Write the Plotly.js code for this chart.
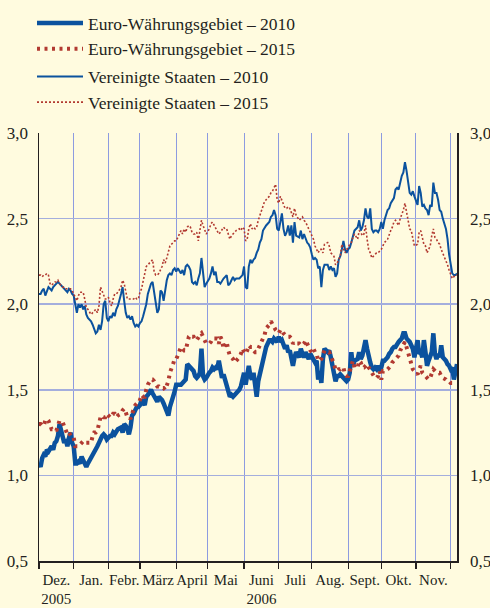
<!DOCTYPE html>
<html>
<head>
<meta charset="utf-8">
<script src="https://cdn.plot.ly/plotly-3.0.1.min.js"></script>
<style>html,body{margin:0;padding:0;background:#fffbdf;}#chart{width:490px;height:608px;}</style>
</head>
<body>
<div id="chart"></div>
<script>
// Trading-day index (0 = 1 Dec 2005) of each observation
const day = [
0,1,2,3,4,5,6,7,8,9,10,11,12,13,
15,16,17,18,19,20,21,22,23,24,25,26,27,28,29,30,31,
33,34,35,36,37,38,39,40,41,42,43,44,45,46,47,48,49,50,
52,53,54,55,56,57,58,59,60,61,62,63,64,65,66,67,68,69,
71,72,73,74,75,76,77,78,79,80,81,82,83,84,85,86,87,88,
90,91,92,93,94,95,96,97,98,99,100,101,102,103,104,105,106,
108,109,110,111,112,113,114,115,116,117,118,119,120,121,122,123,124,125,
127,128,129,130,131,132,133,134,135,136,137,138,139,140,141,142,143,144,
146,147,148,149,150,151,152,153,154,155,156,157,158,159,160,161,162,163,
165,166,167,168,169,170,171,172,173,174,175,176,177,178,179,180,181,
183,184,185,186,187,188,189,190,191,192,193,194,195,196,197,198,199,200,
202,203,204,205,206,207,208,209,210,211,212,213,214,215,216,217,218,219,
221,222,223,224,225,226,227,228,229,230,231,232,233,234,235,236,237,238,
240,241,242,243,244,245,246,247,248,249,250,251,252,253,254,255,256,
258,259,260,261,262,263,264,265
];

// Month boundaries in trading days and labels
const monthBounds = [0,22,44,64,87,107,130,152,173,196,217,239,261];
const monthNames = ['Dez.','Jan.','Febr.','März','April','Mai','Juni','Juli','Aug.','Sept.','Okt.','Nov.'];
const yearLabels = ['2005','','','','','','2006','','','','',''];
const yTicks = [0.5,1.0,1.5,2.0,2.5,3.0];

const seriesNames = ['Euro-Währungsgebiet – 2010','Euro-Währungsgebiet – 2015','Vereinigte Staaten – 2010','Vereinigte Staaten – 2015'];

const ea2010 = [
1.07,1.05,1.10,1.12,1.11,1.15,1.14,1.16,1.17,1.15,
1.19,1.20,1.23,1.30,1.23,1.19,1.21,1.17,1.22,1.25,
1.19,1.17,1.07,1.07,1.08,1.07,1.11,1.09,1.07,1.05,
1.07,1.10,1.12,1.13,1.15,1.17,1.19,1.22,1.23,1.24,
1.23,1.21,1.22,1.23,1.23,1.25,1.24,1.26,1.27,1.28,
1.25,1.30,1.29,1.27,1.24,1.28,1.35,1.36,1.39,1.40,
1.40,1.41,1.44,1.43,1.41,1.46,1.47,1.50,1.48,1.46,
1.44,1.43,1.46,1.45,1.44,1.42,1.40,1.38,1.35,1.40,
1.44,1.46,1.49,
1.53,1.53,1.53,1.54,1.55,1.56,1.65,1.64,1.63,1.62,
1.61,1.58,1.57,1.58,1.60,1.74,1.58,1.56,1.57,1.60,
1.61,1.63,1.62,1.63,1.62,1.67,1.62,1.57,1.59,1.56,
1.51,1.49,1.46,1.47,1.46,1.47,1.48,1.50,1.52,1.56,
1.60,1.53,1.59,1.64,1.58,1.56,1.60,1.52,1.46,1.55,
1.59,1.64,1.67,1.71,1.75,1.79,1.79,1.78,1.80,1.79,
1.78,1.81,1.78,1.79,1.76,1.74,1.76,1.72,1.73,1.68,
1.64,1.69,1.72,1.69,1.74,1.71,1.69,1.72,1.69,1.68,
1.71,1.69,1.67,1.66,
1.67,1.56,1.61,1.54,1.68,1.74,1.72,1.73,1.69,1.64,
1.60,1.55,1.58,1.58,1.59,1.58,1.57,1.56,1.55,1.56,
1.60,1.72,1.64,1.67,1.68,1.72,1.68,1.70,1.74,1.79,
1.74,1.69,1.66,1.63,1.62,1.63,1.62,1.64,1.62,1.63,
1.67,1.67,1.69,1.71,1.72,1.74,1.75,1.75,1.77,1.78,
1.79,1.80,1.83,1.83,1.80,1.79,1.78,1.76,1.74,1.69,
1.79,1.71,1.72,1.69,1.79,1.72,1.64,1.67,1.70,1.72,
1.83,1.71,1.68,1.71,1.69,1.76,1.69,1.67,1.65,1.64,
1.62,1.63,1.56,1.62,1.65
];

const ea2015 = [
1.30,1.30,1.29,1.29,1.32,1.33,1.32,1.29,1.27,1.27,
1.27,1.26,1.30,1.32,1.31,1.28,1.26,1.24,1.25,1.23,
1.22,1.22,1.17,1.17,1.17,1.18,1.19,1.20,1.19,1.19,
1.19,1.19,1.23,1.25,1.25,1.26,1.30,1.34,1.35,1.34,
1.34,1.36,1.35,1.34,1.34,1.36,1.36,1.34,1.35,1.36,
1.38,1.39,1.37,1.34,1.34,1.33,1.36,1.39,1.41,1.42,
1.42,1.44,1.47,1.46,1.46,1.50,1.53,1.56,1.56,1.55,
1.53,1.52,1.52,1.51,1.51,1.51,1.50,1.52,1.55,1.60,
1.62,1.65,1.68,
1.68,1.70,1.75,1.74,1.73,1.73,1.78,1.81,1.82,1.81,
1.81,1.79,1.79,1.81,1.82,1.83,1.81,1.78,1.77,1.77,
1.78,1.80,1.80,1.80,1.80,1.77,1.81,1.79,1.74,1.76,
1.78,1.73,1.70,1.69,1.68,1.66,1.67,1.69,1.71,1.74,
1.72,1.71,1.73,1.76,1.75,1.75,1.73,1.72,1.72,1.74,
1.76,1.78,1.80,1.82,1.86,1.88,1.90,1.88,1.87,1.85,
1.84,1.83,1.85,1.85,1.83,1.82,1.81,1.81,1.81,1.80,
1.77,1.78,1.77,1.77,1.76,1.76,1.77,1.79,1.77,1.74,
1.73,1.72,1.74,1.72,
1.71,1.67,1.67,1.68,1.70,1.73,1.72,1.72,1.70,1.68,
1.65,1.62,1.61,1.62,1.62,1.63,1.63,1.59,1.58,1.58,
1.61,1.64,1.67,1.63,1.63,1.67,1.66,1.63,1.63,1.64,
1.65,1.63,1.62,1.60,1.58,1.57,1.57,1.58,1.61,1.56,
1.61,1.61,1.62,1.63,1.64,1.66,1.67,1.68,1.69,1.70,
1.73,1.75,1.77,1.78,1.75,1.72,1.68,1.65,1.62,1.61,
1.59,1.62,1.64,1.60,1.59,1.58,1.57,1.56,1.57,1.60,
1.62,1.61,1.60,1.60,1.60,1.58,1.57,1.56,1.55,1.55,
1.54,1.54
];

const us2010 = [
2.06,2.06,2.08,2.09,2.05,2.08,2.10,2.09,2.08,2.10,
2.11,2.12,2.13,2.12,2.10,2.09,2.08,2.07,2.09,2.08,
2.06,2.05,2.00,1.95,2.00,1.98,2.00,1.97,1.99,1.94,
1.92,1.90,1.88,1.85,1.83,1.84,1.88,1.85,1.90,2.00,
2.02,1.92,1.90,1.93,1.92,1.95,1.93,1.97,1.99,2.06,
2.10,2.02,1.95,1.92,1.93,1.91,1.93,1.89,1.87,1.88,
1.87,1.89,1.90,1.93,1.96,2.00,2.06,2.12,2.13,2.08,
2.01,1.95,1.97,2.08,2.07,2.02,2.09,2.14,2.17,2.18,
2.17,2.20,2.21,
2.19,2.21,2.18,2.20,2.17,2.22,2.23,2.22,2.20,2.13,
2.12,2.13,2.11,2.15,2.18,2.27,2.18,2.10,2.12,2.15,
2.18,2.22,2.17,2.19,2.13,2.13,2.12,2.14,2.15,2.16,
2.17,2.11,2.12,2.14,2.16,2.14,2.15,2.15,2.16,2.17,
2.22,2.10,2.09,2.22,2.26,2.24,2.26,2.27,2.30,2.32,
2.36,2.38,2.43,2.45,2.46,2.48,2.51,2.52,2.55,2.52,
2.44,2.43,2.49,2.53,2.44,2.40,2.42,2.46,2.40,2.46,
2.36,2.48,2.40,2.39,2.43,2.38,2.41,2.38,2.36,2.35,
2.33,2.29,2.26,2.27,
2.26,2.21,2.22,2.10,2.20,2.23,2.23,2.20,2.22,2.20,
2.21,2.16,2.18,2.26,2.28,2.32,2.37,2.32,2.30,2.32,
2.33,2.36,2.39,2.43,2.45,2.49,2.43,2.45,2.49,2.56,
2.51,2.50,2.56,2.44,2.42,2.43,2.43,2.42,2.44,2.48,
2.44,2.49,2.55,2.56,2.59,2.61,2.62,2.67,2.68,2.67,
2.72,2.75,2.77,2.83,2.78,2.72,2.65,2.64,2.66,2.63,
2.58,2.69,2.65,2.57,2.58,2.56,2.55,2.52,2.58,2.57,
2.71,2.65,2.65,2.61,2.55,2.54,2.50,2.44,2.38,2.29,
2.22,2.18,2.17,2.17,2.18
];

const us2015 = [
2.17,2.17,2.16,2.17,2.17,2.18,2.17,2.12,2.11,2.12,
2.13,2.13,2.14,2.12,2.10,2.10,2.09,2.09,2.09,2.09,
2.08,2.06,2.03,2.02,2.05,2.07,2.07,2.07,2.03,1.98,
1.97,1.94,1.95,1.96,1.97,1.95,1.99,2.10,2.08,2.05,
2.03,2.03,2.04,2.01,1.99,2.03,2.06,2.06,2.07,2.10,
2.14,2.12,2.07,2.03,2.03,2.03,2.03,2.03,2.04,2.03,
2.03,2.07,2.09,2.13,2.18,2.22,2.23,2.25,2.26,2.19,
2.17,2.17,2.18,2.20,2.22,2.26,2.24,2.27,2.30,2.34,
2.35,2.36,2.37,
2.37,2.39,2.43,2.41,2.44,2.42,2.45,2.46,2.45,2.42,
2.41,2.41,2.42,2.37,2.43,2.49,2.46,2.44,2.41,2.44,
2.47,2.48,2.46,2.45,2.43,2.41,2.42,2.44,2.45,2.44,
2.44,2.41,2.38,2.40,2.41,2.42,2.43,2.44,2.43,2.45,
2.44,2.37,2.38,2.44,2.47,2.44,2.45,2.44,2.45,2.49,
2.52,2.55,2.57,2.60,2.61,2.63,2.65,2.66,2.68,2.70,
2.61,2.59,2.63,2.61,2.59,2.56,2.56,2.57,2.56,2.53,
2.51,2.56,2.52,2.49,2.50,2.51,2.49,2.48,2.46,2.44,
2.43,2.40,2.38,2.34,
2.32,2.30,2.32,2.32,2.30,2.35,2.36,2.34,2.30,2.29,
2.28,2.23,2.24,2.26,2.28,2.35,2.33,2.30,2.32,2.33,
2.35,2.36,2.39,2.41,2.38,2.43,2.42,2.40,2.41,2.46,
2.38,2.32,2.30,2.27,2.28,2.29,2.30,2.30,2.31,2.32,
2.34,2.36,2.38,2.41,2.43,2.45,2.48,2.49,2.47,2.46,
2.50,2.52,2.55,2.59,2.54,2.51,2.44,2.43,2.38,2.34,
2.35,2.42,2.43,2.38,2.35,2.34,2.30,2.32,2.34,2.40,
2.44,2.39,2.38,2.36,2.35,2.32,2.30,2.25,2.23,2.20,
2.17,2.15,2.16,2.17,2.17
];

const BLUE = '#0b529e';
const RED = '#b23a31';
const INK = '#231f20';
const BG = '#fffbdf';
const SERIF = 'Liberation Serif, Times New Roman, serif';

const monthMid = monthNames.map((_, i) => (monthBounds[i] + monthBounds[i + 1]) / 2);
const monthText = monthNames.map((m, i) => yearLabels[i] ? m + '<br>' + yearLabels[i] : m);

const traces = [
  {x: day.slice(0, ea2010.length), y: ea2010, name: seriesNames[0], legendgroup: 'ea',
   mode: 'lines', line: {color: BLUE, width: 4.5}},
  {x: day.slice(0, ea2015.length), y: ea2015, name: seriesNames[1], legendgroup: 'ea',
   mode: 'lines', line: {color: RED, width: 4, dash: '3px,4.5px'}},
  {x: day.slice(0, us2010.length), y: us2010, name: seriesNames[2], legendgroup: 'us',
   mode: 'lines', line: {color: BLUE, width: 2}},
  {x: day.slice(0, us2015.length), y: us2015, name: seriesNames[3], legendgroup: 'us', yaxis: 'y2',
   mode: 'lines', line: {color: RED, width: 1.6, dash: '2px,2px'}}
];

const layout = {
  width: 490, height: 608,
  paper_bgcolor: BG, plot_bgcolor: BG,
  margin: {l: 39, r: 33, t: 133, b: 47, autoexpand: false},
  separators: ',.',
  font: {family: SERIF, color: INK, size: 15},
  showlegend: true,
  legend: {
    xref: 'container', yref: 'container', x: 32 / 490, y: 1 - 5 / 608,
    xanchor: 'left', yanchor: 'top', bgcolor: 'rgba(0,0,0,0)',
    font: {family: SERIF, size: 17.5, color: INK}, traceorder: 'grouped', tracegroupgap: 2, itemwidth: 46
  },
  xaxis: {
    range: [0, 265], tickmode: 'array', tickvals: monthMid, ticktext: monthText,
    ticks: '', showgrid: false, zeroline: false, tickangle: 0,
    showline: true, linecolor: INK, linewidth: 1.5,
    tickfont: {family: SERIF, size: 15, color: INK}, ticklabelstandoff: 4,
    minor: {tickmode: 'array', tickvals: monthBounds, ticks: 'outside', ticklen: 6,
            tickcolor: INK, tickwidth: 1.2, showgrid: true, gridcolor: '#8d9be0', gridwidth: 1}
  },
  yaxis: {
    range: [0.5, 3.0], tickmode: 'array', tickvals: yTicks, tickformat: '.1f',
    showgrid: true, gridcolor: '#a4aedd', gridwidth: 1.5, zeroline: false,
    showline: true, linecolor: INK, linewidth: 1.5, ticks: '',
    tickfont: {family: SERIF, size: 17, color: INK}, ticklabelstandoff: 6
  },
  yaxis2: {
    overlaying: 'y', side: 'right', range: [0.5, 3.0], tickmode: 'array', tickvals: yTicks,
    tickformat: '.1f', showgrid: false, zeroline: false,
    showline: true, linecolor: INK, linewidth: 1.5, ticks: '',
    tickfont: {family: SERIF, size: 17, color: INK}, ticklabelstandoff: 8
  }
};

Plotly.newPlot('chart', traces, layout, {staticPlot: true, displayModeBar: false});
</script>
</body>
</html>
